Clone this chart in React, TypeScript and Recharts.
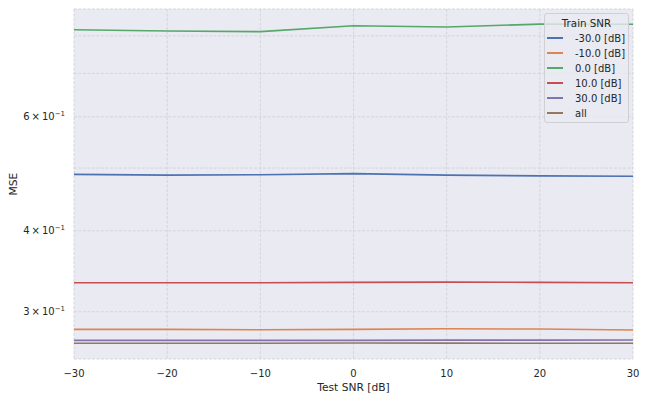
import React from 'react';
import { LineChart, Line, XAxis, YAxis, CartesianGrid } from 'recharts';

const testSnr = [-30, -20, -10, 0, 10, 20, 30];
const seriesNames = ['-30.0 [dB]', '-10.0 [dB]', '0.0 [dB]', '10.0 [dB]', '30.0 [dB]', 'all'];
const mseTrainM30 = [0.4889, 0.4876, 0.4883, 0.4902, 0.4876, 0.4863, 0.4856];
const mseTrainM10 = [0.2818, 0.2818, 0.2814, 0.2818, 0.2824, 0.2821, 0.2811];
const mseTrain0 = [0.8176, 0.814, 0.812, 0.8293, 0.8254, 0.834, 0.8335];
const mseTrain10 = [0.3325, 0.3325, 0.3326, 0.333, 0.3333, 0.333, 0.3326];
const mseTrain30 = [0.271, 0.271, 0.271, 0.271, 0.2712, 0.2712, 0.2713];
const mseAll = [0.2682, 0.2682, 0.2682, 0.2684, 0.2683, 0.2682, 0.2682];
const seriesValues = [mseTrainM30, mseTrainM10, mseTrain0, mseTrain10, mseTrain30, mseAll];
const seriesColors = ['#4C72B0', '#DD8452', '#55A868', '#C44E52', '#8172B3', '#937860'];
const xTicks = [-30, -20, -10, 0, 10, 20, 30];
const yTicks = [0.3, 0.4, 0.5, 0.6, 0.7, 0.8];
const yLabeledTicks: Record<string, string> = { '0.3': '3', '0.4': '4', '0.6': '6' };
const yDomain = [0.2536, 0.8801];

const data = testSnr.map((x, i) => {
  const row: Record<string, number> = { x };
  seriesNames.forEach((n, s) => {
    row['s' + s] = seriesValues[s][i];
  });
  return row;
});

const FONT = '"DejaVu Sans", sans-serif';
const TXT = '#262626';

const YTick = (props: any) => {
  const { x, y, payload } = props;
  const m = yLabeledTicks[String(payload.value)];
  if (!m) return null;
  return (
    <text x={x} y={y + 3.6} textAnchor="end" fontFamily={FONT} fontSize={10} fill={TXT}>
      <tspan>{m + '\u2009\u00d7\u200910'}</tspan>
      <tspan dy={-4.5} fontSize={7}>{'\u22121'}</tspan>
    </text>
  );
};

const YLabel = (props: any) => {
  const vb = props.viewBox || { y: 9, height: 350 };
  const cx = 13;
  const cy = vb.y + vb.height / 2;
  return (
    <text x={cx} y={cy} transform={`rotate(-90 ${cx} ${cy})`} textAnchor="middle" dominantBaseline="central" fontFamily={FONT} fontSize={10.7} fill={TXT}>
      MSE
    </text>
  );
};

const XLabel = (props: any) => {
  const vb = props.viewBox || { x: 74, width: 559 };
  const cx = vb.x + vb.width / 2;
  return (
    <text x={cx} y={387} textAnchor="middle" dominantBaseline="central" fontFamily={FONT} fontSize={10.7} fill={TXT}>
      Test SNR [dB]
    </text>
  );
};

const fmtX = (v: number) => (v < 0 ? '\u2212' + Math.abs(v) : String(v));

export default function App() {
  return (
    <div style={{ position: 'absolute', left: 0, top: 0, width: 649, height: 403, background: '#fff' }}>
      <LineChart width={649} height={403} data={data} margin={{ top: 9, right: 16, left: 0, bottom: 0 }}>
        <CartesianGrid fill="#EAEAF2" stroke="#d3d3d9" strokeDasharray="3 1.5" strokeWidth={0.9} />
        <XAxis
          dataKey="x"
          type="number"
          domain={[-30, 30]}
          ticks={xTicks}
          tickFormatter={fmtX}
          axisLine={false}
          tickLine={false}
          tickSize={0}
          tickMargin={11}
          height={44}
          tick={{ fontFamily: FONT, fontSize: 10, fill: TXT }}
          label={<XLabel />}
        />
        <YAxis
          scale="log"
          type="number"
          domain={yDomain}
          allowDataOverflow
          ticks={yTicks}
          axisLine={false}
          tickLine={false}
          tickSize={0}
          tickMargin={9}
          width={74}
          tick={<YTick />}
          label={<YLabel />}
        />
        {seriesNames.map((n, s) => (
          <Line
            key={n}
            dataKey={'s' + s}
            name={n}
            stroke={seriesColors[s]}
            strokeWidth={1.6}
            dot={false}
            isAnimationActive={false}
          />
        ))}
      </LineChart>
      <div
        style={{
          position: 'absolute',
          left: 544,
          top: 13,
          width: 85,
          height: 110,
          boxSizing: 'border-box',
          background: 'rgba(234,234,242,0.8)',
          border: '1px solid #cfcfd4',
          borderRadius: 3,
          fontFamily: FONT,
          color: TXT,
        }}
      >
        <div style={{ position: 'absolute', left: 0, right: 0, top: 2, height: 14, lineHeight: '14px', textAlign: 'center', fontSize: 10.3 }}>
          Train SNR
        </div>
        {seriesNames.map((n, s) => (
          <div key={n} style={{ position: 'absolute', left: 0, top: 16.5 + s * 15, height: 15, width: '100%' }}>
            <div style={{ position: 'absolute', left: 2, top: 6.7, width: 16, height: 1.6, background: seriesColors[s] }} />
            <div style={{ position: 'absolute', left: 30, top: 0, lineHeight: '15px', fontSize: 10, whiteSpace: 'nowrap' }}>{n}</div>
          </div>
        ))}
      </div>
    </div>
  );
}
